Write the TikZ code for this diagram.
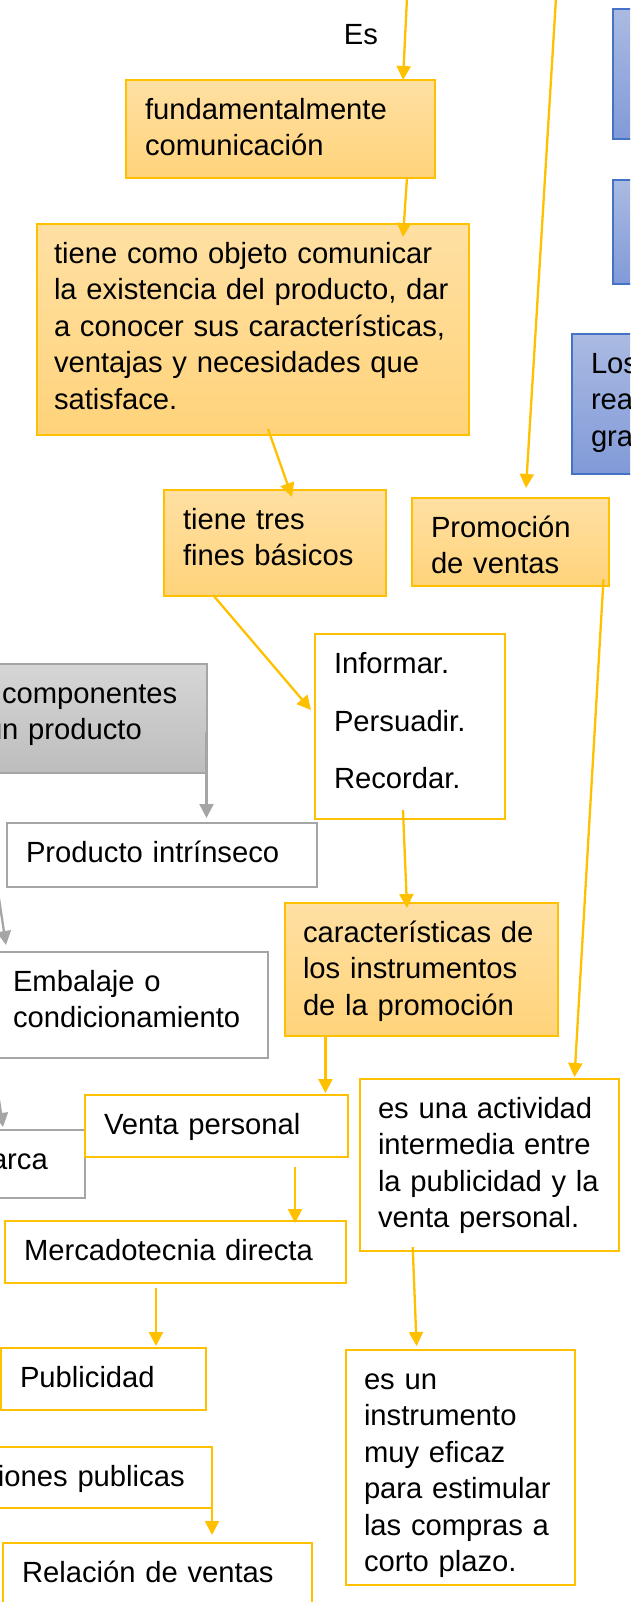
\documentclass[tikz,border=0pt]{standalone}
\usepackage{fontspec}
\setmainfont{Liberation Sans}
\usepackage{tikz}
\usetikzlibrary{calc,arrows.meta}

\definecolor{ylw}{HTML}{FFC000}
\definecolor{orhi}{HTML}{FFE0A3}
\definecolor{orlo}{HTML}{FFD37A}
\definecolor{bluhi}{HTML}{AABAE2}
\definecolor{blulo}{HTML}{819AD8}
\definecolor{bluln}{HTML}{4472C4}
\definecolor{gryhi}{HTML}{D6D6D6}
\definecolor{grylo}{HTML}{BDBDBD}
\definecolor{gryln}{HTML}{A5A5A5}

\begin{document}
\begin{tikzpicture}[x=1pt,y=-1pt,
    every node/.style={font=\fontsize{29.2}{36.4}\selectfont,anchor=north west,
      align=left,inner xsep=19pt,inner ysep=0pt,outer sep=0pt},
    bx/.style={text height=39.5pt,text depth=#1},
    obox/.style={draw=ylw,line width=2.5pt,top color=orhi,bottom color=orlo},
    ybox/.style={draw=ylw,line width=2.5pt,fill=white},
    gbox/.style={draw=gryln,line width=2pt,fill=white},
    gfill/.style={draw=gryln,line width=2pt,top color=gryhi,bottom color=grylo},
    bbox/.style={draw=bluln,line width=2pt,top color=bluhi,bottom color=blulo},
    yarr/.style={draw=ylw,line width=2.3pt,-{Triangle[length=14pt,width=14pt]}},
    garr/.style={draw=gryln,line width=2.3pt,-{Triangle[length=14pt,width=14pt]}}]
    \useasboundingbox (0,0) rectangle (630,1602);
    \clip (0,0) rectangle (630,1602);
    % Free ends of the connectors that come in from outside the page
    \coordinate (topA) at (407,-2);   % top, towards fund
    \coordinate (topB) at (556,-2);   % top, towards prom
    \coordinate (grA)  at (-2,892);   % left, towards emb
    \coordinate (grB)  at (-1,1100);  % left, towards arca
    % Blue boxes on the right edge
    \node[bbox,minimum width=80pt,minimum height=130pt] (blueA) at (613,9) {};
    \node[bbox,minimum width=80pt,minimum height=104pt] (blueB) at (613,180) {};
    \node[bbox,bx=100.5pt,text width=82pt] (blueC) at (572,334) {Los\\rea\\gra};
    % Orange boxes
    \node[obox,bx=58.5pt,text width=271pt] (fund) at (126,80)
      {fundamentalmente\\comunicación};
    \node[obox,bx=171.5pt,text width=398pt,inner xsep=17pt] (obj) at (37,224)
      {tiene como objeto comunicar\\la existencia del producto, dar\\a conocer sus características,\\ventajas y necesidades que\\satisface.};
    \node[obox,bx=66.5pt,text width=184pt] (tres) at (164,490)
      {tiene tres\\fines básicos};
    \node[obox,bx=48.5pt,text width=159pt] (prom) at (412,498)
      {Promoción\\de ventas};
    \node[obox,bx=93.5pt,text width=237pt,inner xsep=18pt] (caract) at (285,903)
      {características de\\los instrumentos\\de la promoción};
    % Gray boxes on the left
    \node[gfill,bx=69.5pt,text width=185.5pt] (comp) at (-17,664)
      {componentes\\\hspace*{-16pt}un producto};
    \node[gbox,bx=24.5pt,text width=272pt] (prod) at (7,823) {Producto intrínseco};
    \node[gbox,bx=66.5pt,text width=236.4pt] (emb) at (-6,952)
      {Embalaje o\\condicionamiento};
    \node[gbox,bx=28.5pt,text width=75pt] (arca) at (-28,1130) {arca};
    % White boxes with yellow border
    \node[ybox,bx=145.5pt,text width=152pt,font=\fontsize{29.2}{57.7}\selectfont]
      (inform) at (315,634) {Informar.\\Persuadir.\\Recordar.};
    \node[ybox,bx=22.5pt,text width=225pt] (venta) at (85,1095) {Venta personal};
    \node[ybox,bx=132.5pt,text width=223pt,inner xsep=18pt] (activ) at (360,1079)
      {es una actividad\\intermedia entre\\la publicidad y la\\venta personal.};
    \node[ybox,bx=22.5pt,text width=303pt] (merc) at (5,1221) {Mercadotecnia directa};
    \node[ybox,bx=22.5pt,text width=167pt] (publ) at (1,1348) {Publicidad};
    \node[ybox,bx=21.5pt,text width=195pt] (relp) at (-21,1447) {iones publicas};
    \node[ybox,bx=30.5pt,text width=271pt] (rvent) at (3,1543) {Relación de ventas};
    \node[ybox,bx=195.5pt,text width=193pt,inner xsep=18pt] (instr) at (346,1350)
      {es un\\instrumento\\muy eficaz\\para estimular\\las compras a\\corto plazo.};
    \node[anchor=center,inner sep=0pt] (es) at (361,35) {Es};
    % Connectors
    \draw[yarr] (topA) -- ($(fund.north west)+(277,0)$);
    \draw[yarr] ($(fund.south west)+(281,0)$) -- ($(obj.north west)+(366,13)$);
    \draw[yarr] ($(obj.south west)+(231,-6)$) -- ($(tres.north west)+(128,7)$);
    \draw[yarr] (topB) -- ($(prom.north west)+(114,-10)$);
    \draw[yarr] ($(tres.south west)+(49,-1)$) -- ($(inform.north west)+(-4,76)$);
    \draw[yarr] ($(inform.south west)+(88,-9)$) -- ($(caract.north west)+(122,5)$);
    \draw[yarr] ($(prom.south east)+(-5.5,-7)$) -- ($(activ.north west)+(214.5,-2)$);
    \draw[yarr] ($(caract.south west)+(40.4,0)$) -- ($(venta.north west)+(240.4,-2)$);
    \draw[yarr] ($(venta.south west)+(210,10)$) -- ($(merc.north west)+(290,2)$);
    \draw[yarr] ($(merc.south west)+(151,5)$) -- ($(publ.north west)+(155,-2)$);
    \draw[yarr] (relp.east) -- ($(rvent.north west)+(209,-8)$);
    \draw[yarr] ($(activ.south west)+(52.7,-4)$) -- ($(instr.north west)+(70.6,-4)$);
    \draw[garr] ($(comp.south east)+(0,-41)$) -- ($(prod.north west)+(199.5,-5)$);
    \draw[garr] (grA) -- ($(emb.north west)+(12,-7)$);
    \draw[garr] (grB) -- ($(arca.north west)+(31,-3)$);
\end{tikzpicture}
\end{document}
